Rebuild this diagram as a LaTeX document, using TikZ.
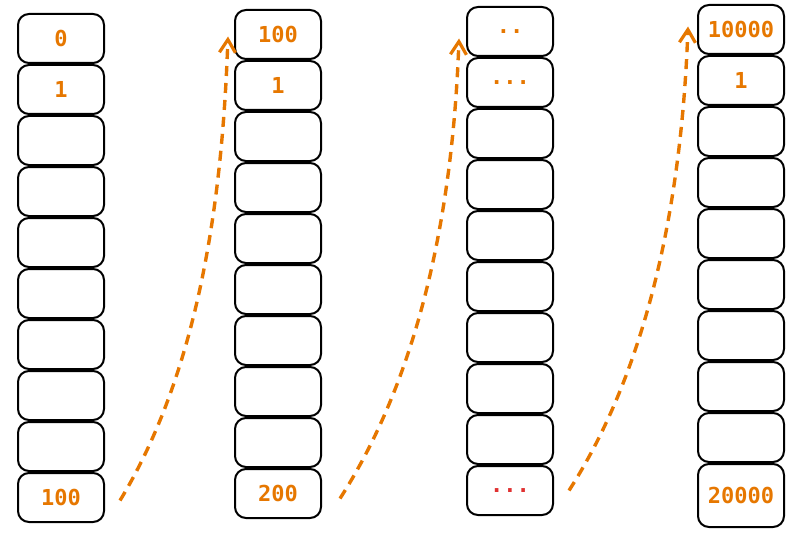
\documentclass[tikz,border=0pt]{standalone}
\usepackage{fontspec}
\setmonofont{DejaVu Sans Mono}
\usetikzlibrary{chains, arrows.meta}
\definecolor{memorange}{HTML}{E67700}
\definecolor{memred}{HTML}{E03131}
\tikzset{
  cell/.style={draw, line width=2pt, rounded corners=11pt, minimum width=86pt,
    minimum height=49pt, inner sep=0pt, text=memorange,
    font=\ttfamily\bfseries\fontsize{22}{26}\selectfont},
  jump/.style={draw=memorange, line width=3.4pt, dash pattern=on 10pt off 7pt,
    -{Straight Barb[length=13pt, width=16pt, line width=3.2pt]}}
}
\begin{document}
\begin{tikzpicture}[x=1pt, y=-1pt, node distance=0pt]
    \useasboundingbox (0,0) rectangle (812,535);

    \begin{scope}[start chain=going below]
      \node[cell, on chain, anchor=north] (a1) at (61,13) {0};
      \node[cell, on chain] (a2) {1};
      \foreach \i in {3,...,9}
        \node[cell, on chain] (a\i) {};
      \node[cell, on chain] (a10) {100};
    \end{scope}

    \begin{scope}[start chain=going below]
      \node[cell, on chain, anchor=north] (b1) at (278,9) {100};
      \node[cell, on chain] (b2) {1};
      \foreach \i in {3,...,9}
        \node[cell, on chain] (b\i) {};
      \node[cell, on chain] (b10) {200};
    \end{scope}

    \begin{scope}[start chain=going below]
      \node[cell, on chain, anchor=north] (c1) at (510,6) {..};
      \node[cell, on chain] (c2) {...};
      \foreach \i in {3,...,9}
        \node[cell, on chain] (c\i) {};
      \node[cell, on chain, text=memred] (c10) {...};
    \end{scope}

    \begin{scope}[start chain=going below]
      \node[cell, on chain, anchor=north] (d1) at (741,4) {10000};
      \node[cell, on chain] (d2) {1};
      \foreach \i in {3,...,9}
        \node[cell, on chain] (d\i) {};
      \node[cell, on chain, minimum height=63pt] (d10) {20000};
    \end{scope}

    \draw[jump] ([xshift=15pt,yshift=-3pt]a10.east) .. controls +(85,-140) and +(-5,140) .. ([xshift=-6pt,yshift=-2pt]b1.west);
    \draw[jump] ([xshift=18pt,yshift=-5pt]b10.east) .. controls +(90,-140) and +(-5,140) .. ([xshift=-7pt,yshift=-7pt]c1.west);
    \draw[jump] ([xshift=15pt]c10.east) .. controls +(90,-140) and +(-5,140) .. ([xshift=-9pt,yshift=3pt]d1.west);
\end{tikzpicture}
\end{document}
